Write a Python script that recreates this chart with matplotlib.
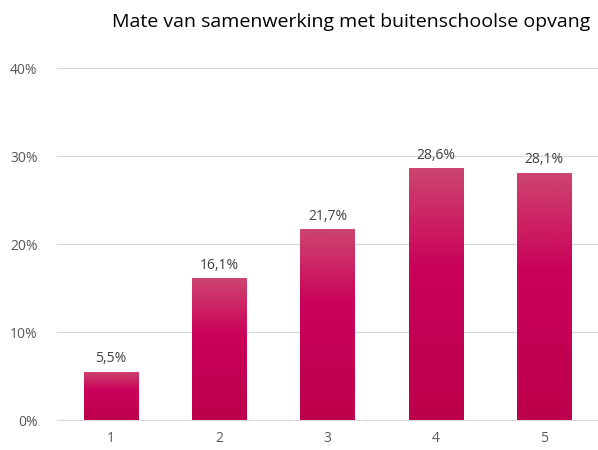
import numpy as np
import matplotlib.pyplot as plt
from matplotlib.colors import LinearSegmentedColormap

categories = ['1', '2', '3', '4', '5']
values = [5.5, 16.1, 21.7, 28.6, 28.1]
labels = ['5,5%', '16,1%', '21,7%', '28,6%', '28,1%']
yticks = [0, 10, 20, 30, 40]

plt.rcParams['font.family'] = ['Open Sans', 'DejaVu Sans']

fig = plt.figure(figsize=(5.98, 4.5), dpi=100)
ax = fig.add_axes([57 / 598, 30 / 450, 541 / 598, 352 / 450])

cmap = LinearSegmentedColormap.from_list(
    'bar', [(0.0, '#bd004b'), (0.6, '#c9005a'), (0.75, '#cc1a60'), (1.0, '#cc4570')])
grad = np.linspace(0, 1, 256).reshape(-1, 1)

x = np.arange(len(categories))
bars = ax.bar(x, values, width=0.5, color='none', zorder=2)
for b in bars:
    x0, w, h = b.get_x(), b.get_width(), b.get_height()
    im = ax.imshow(grad, cmap=cmap, aspect='auto', origin='lower',
                   extent=[x0, x0 + w, 0, h], zorder=2)
    im.set_clip_path(b)

for xi, v, lab in zip(x, values, labels):
    ax.text(xi, v + 0.6, lab, ha='center', va='bottom', fontsize=10, color='#404040')

ax.set_xlim(-0.5, 4.5)
ax.set_ylim(0, 40)
ax.set_xticks(x)
ax.set_xticklabels(categories)
ax.set_yticks(yticks)
ax.set_yticklabels([f'{t}%' for t in yticks])
ax.tick_params(length=0, labelsize=10, colors='#595959')
ax.tick_params(axis='y', pad=14)
ax.tick_params(axis='x', pad=8)
ax.grid(axis='y', color='#d9d9d9', linewidth=0.8, zorder=0)
ax.set_axisbelow(True)
for s in ['top', 'right', 'left']:
    ax.spines[s].set_visible(False)
ax.spines['bottom'].set_color('#d9d9d9')

fig.text(351 / 598, 1 - 22 / 450, 'Mate van samenwerking met buitenschoolse opvang',
         ha='center', va='center', fontsize=14, color='#000000')

fig.savefig('out.png', dpi=100)
